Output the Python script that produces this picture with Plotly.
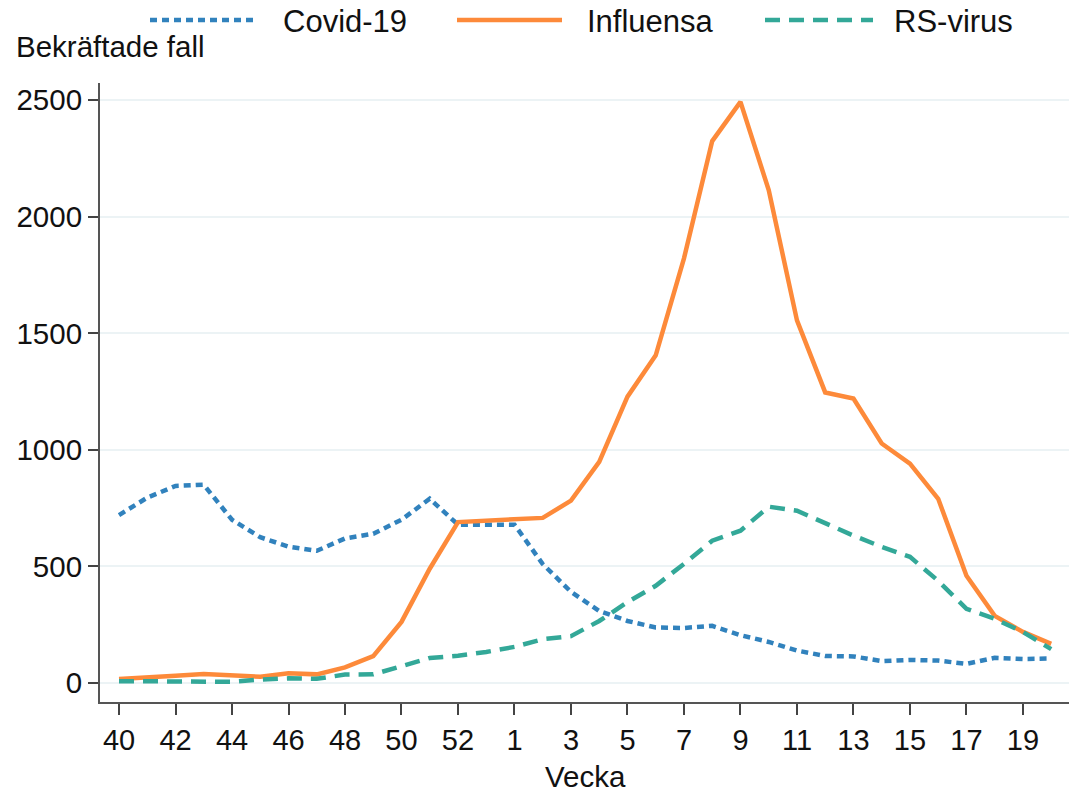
import plotly.graph_objects as go

weeks = [str(w) for w in range(40, 54)] + [str(w) for w in range(1, 21)]
tick_weeks = weeks[::2]

covid = [720, 795, 845, 850, 700, 625, 585, 567, 620, 640, 700, 790, 679, 679, 679,
         510, 391, 309, 266, 238, 236, 245, 205, 176, 139, 116, 114, 94, 99, 96, 82,
         108, 103, 105]
influensa = [17, 26, 31, 39, 35, 27, 42, 37, 67, 115, 262, 490, 690, 697, 704, 708,
             782, 948, 1228, 1405, 1821, 2324, 2492, 2114, 1555, 1246, 1220, 1027, 941,
             790, 460, 288, 219, 168]
rsvirus = [8, 8, 8, 8, 5, 15, 20, 18, 36, 37, 74, 107, 117, 133, 155, 188, 201, 266,
           347, 417, 511, 610, 653, 756, 739, 683, 632, 584, 541, 438, 318, 275, 219,
           145]

C_COVID = "#3182bd"
C_FLU = "#fd8a3a"
C_RS = "#33a898"
FONT = "Liberation Sans, Arial, sans-serif"

fig = go.Figure()
fig.add_trace(go.Scatter(x=weeks, y=covid, mode="lines", name="Covid-19",
                         line=dict(color=C_COVID, width=4.5, dash="7px,5px")))
fig.add_trace(go.Scatter(x=weeks, y=influensa, mode="lines", name="Influensa",
                         line=dict(color=C_FLU, width=4.5)))
fig.add_trace(go.Scatter(x=weeks, y=rsvirus, mode="lines", name="RS-virus",
                         line=dict(color=C_RS, width=4.5, dash="15px,9px")))

L, R, T, B = 100, 1069, 83, 702
W, H = R - L, B - T


def px(x):
    return (x - L) / W


def py(y):
    return (B - y) / H


shapes = []
annotations = []
legend_items = [("Covid-19", C_COVID, "7px,5px", 150, 258, 281),
                ("Influensa", C_FLU, "solid", 457, 562, 585),
                ("RS-virus", C_RS, "15px,9px", 765, 873, 892)]
for name, col, dash, x0, x1, xt in legend_items:
    shapes.append(dict(type="line", xref="paper", yref="paper",
                       x0=px(x0), x1=px(x1), y0=py(20), y1=py(20),
                       line=dict(color=col, width=4.5, dash=dash)))
    annotations.append(dict(text=name, xref="paper", yref="paper", x=px(xt), y=py(21),
                            xanchor="left", yanchor="middle", showarrow=False,
                            font=dict(size=31, color="#111111", family=FONT)))

annotations.append(dict(text="Bekräftade fall", xref="paper", yref="paper",
                        x=px(14), y=py(46), xanchor="left", yanchor="middle",
                        showarrow=False, font=dict(size=29.5, color="#111111", family=FONT)))
annotations.append(dict(text="Vecka", xref="paper", yref="paper",
                        x=px(585), y=py(776), xanchor="center", yanchor="middle",
                        showarrow=False, font=dict(size=29.5, color="#111111", family=FONT)))

fig.update_layout(
    width=1069, height=792,
    margin=dict(l=L, r=1069 - R, t=T, b=792 - B, autoexpand=False),
    paper_bgcolor="white", plot_bgcolor="white",
    showlegend=False,
    font=dict(family=FONT, color="#111111"),
    shapes=shapes, annotations=annotations,
)
fig.update_xaxes(
    type="category", categoryorder="array", categoryarray=weeks,
    tickmode="array", tickvals=tick_weeks, ticktext=tick_weeks,
    range=[-0.673, 33.63], automargin=False,
    showgrid=False, zeroline=False,
    showline=True, linecolor="#555555", linewidth=2,
    ticks="outside", ticklen=11, tickwidth=2, tickcolor="#444444",
    tickfont=dict(size=29, family=FONT, color="#111111"),
    ticklabelstandoff=0,
)
fig.update_yaxes(
    range=[-81.5, 2573], automargin=False,
    tickmode="array", tickvals=[0, 500, 1000, 1500, 2000, 2500],
    showgrid=True, gridcolor="#ecf3f5", gridwidth=2,
    zeroline=False,
    showline=True, linecolor="#555555", linewidth=2,
    ticks="outside", ticklen=10, tickwidth=2, tickcolor="#444444",
    tickfont=dict(size=29.5, family=FONT, color="#111111"),
    ticklabelstandoff=0,
)

fig.write_html("out.html", config={"displayModeBar": False},
               post_script="document.body.style.margin='0';document.body.style.overflow='hidden';")
